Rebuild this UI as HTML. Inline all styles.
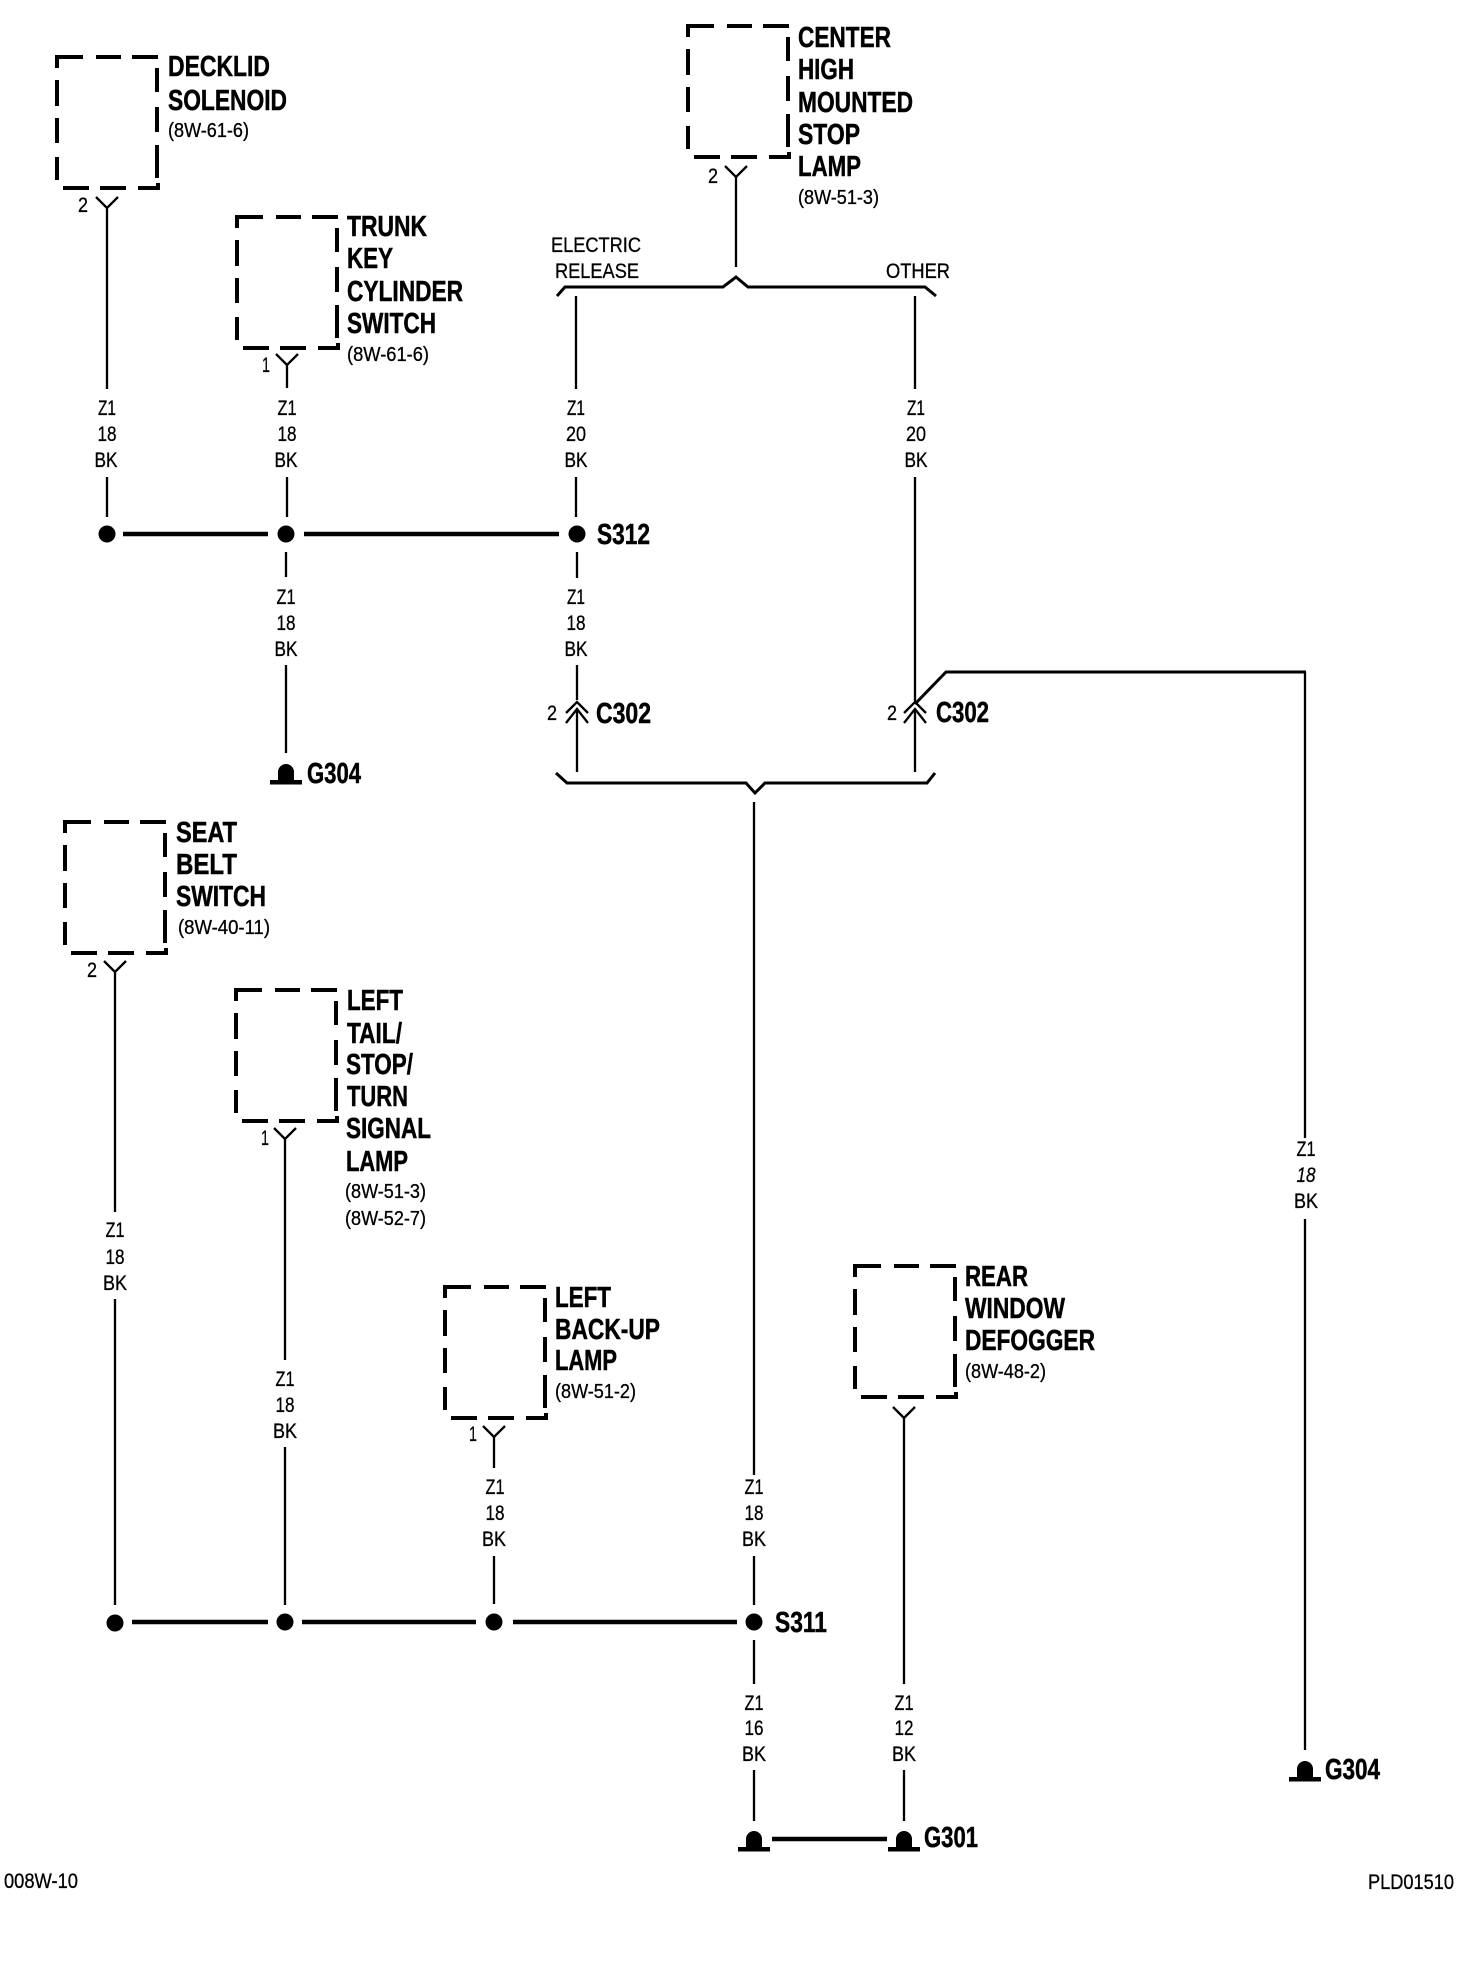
<!DOCTYPE html>
<html><head><meta charset="utf-8"><style>
html,body{margin:0;padding:0;background:#fff}
svg{display:block}
text{fill:#000;stroke:#000;font-family:"Liberation Sans",sans-serif}
.b{font-size:29px;font-weight:bold;stroke-width:.5}
.p{font-size:20px;stroke-width:.3}
.n{font-size:21px;stroke-width:.3}
.c{font-size:21px;text-anchor:middle;stroke-width:.3}
.w{fill:none;stroke:#000;stroke-width:2.3}
.t{fill:none;stroke:#000;stroke-width:3}
.h{fill:none;stroke:#000;stroke-width:4.5}
.d{fill:none;stroke:#000;stroke-width:4}
</style></head><body>
<svg width="1472" height="1982" viewBox="0 0 1472 1982" xmlns="http://www.w3.org/2000/svg">
<defs>
<path id="box" class="d" d="M0,11V0H26M39,0H64M75,0H101M100,11V35M100,50V75M100,88V121M6,131H32M43,131H69M81,131H101V126M0,23V49M0,61V86M0,100V123"/>
<path id="yc" class="w" d="M-11,-11L0,0L11,-11"/>
<g id="gnd"><path d="M-8,8V0A8,8 0 0 1 8,0V8Z"/><rect x="-16" y="8" width="32" height="4.5"/></g>
<g id="chev"><path class="w" d="M-11,11L0,0L11,11M-11,21L0,7L11,21"/></g>
</defs>
<rect width="1472" height="1982" fill="#fff"/>

<!-- boxes -->
<use href="#box" x="57" y="57"/>
<use href="#box" x="237" y="217"/>
<use href="#box" x="688" y="26"/>
<use href="#box" x="65" y="822"/>
<use href="#box" x="236" y="990"/>
<use href="#box" x="445" y="1287"/>
<use href="#box" x="855" y="1266"/>

<!-- Y connectors -->
<use href="#yc" x="107" y="208"/>
<use href="#yc" x="287" y="365"/>
<use href="#yc" x="736" y="177"/>
<use href="#yc" x="115" y="972"/>
<use href="#yc" x="285" y="1139"/>
<use href="#yc" x="494" y="1437"/>
<use href="#yc" x="904" y="1418"/>

<!-- wires -->
<path class="w" d="M107,208V389M107,477V517M287,365V388M287,477V517M286,552V577M286,665V753
M576,296V389M576,477V517M577,552V578M577,665V700M577,709V772
M915,296V389M915,477V704M915,709V772
M736,177V267
M754,802V1475M754,1556V1605M754,1640V1684M754,1770V1821
M904,1418V1684M904,1770V1821
M115,972V1212M115,1299V1605
M285,1139V1360M285,1447V1605
M494,1437V1468M494,1556V1604
M1305,672V1138M1305,1219V1750"/>
<path class="t" d="M557,296L565,287H723L736,277L748,287H925L936,296"/>
<path class="t" d="M556,773L567,783H746L755,793L765,783H927L935,773"/>
<path class="t" d="M915,704L946,672H1306"/>
<path class="h" d="M123,534H268M304,534H559M132,1622H268M302,1622H476M513,1622H737M772,1839H887"/>

<!-- dots -->
<circle cx="107" cy="534" r="8.5"/><circle cx="286" cy="534" r="8.5"/><circle cx="577" cy="534" r="8.5"/>
<circle cx="115" cy="1623" r="8.5"/><circle cx="285" cy="1622" r="8.5"/><circle cx="494" cy="1622" r="8.5"/><circle cx="754" cy="1622" r="8.5"/>

<!-- grounds -->
<use href="#gnd" x="286" y="772"/>
<use href="#gnd" x="1305" y="1769"/>
<use href="#gnd" x="754" y="1839"/>
<use href="#gnd" x="904" y="1839"/>

<!-- chevrons -->
<use href="#chev" x="577" y="702"/>
<use href="#chev" x="915" y="702"/>

<!-- component labels -->
<text class="b" x="168" y="76" textLength="102" lengthAdjust="spacingAndGlyphs">DECKLID</text>
<text class="b" x="168" y="110" textLength="119" lengthAdjust="spacingAndGlyphs">SOLENOID</text>
<text class="p" x="168" y="137" textLength="81" lengthAdjust="spacingAndGlyphs">(8W-61-6)</text>

<text class="b" x="347" y="236" textLength="80" lengthAdjust="spacingAndGlyphs">TRUNK</text>
<text class="b" x="347" y="268" textLength="46" lengthAdjust="spacingAndGlyphs">KEY</text>
<text class="b" x="347" y="301" textLength="116" lengthAdjust="spacingAndGlyphs">CYLINDER</text>
<text class="b" x="347" y="333" textLength="89" lengthAdjust="spacingAndGlyphs">SWITCH</text>
<text class="p" x="347" y="361" textLength="82" lengthAdjust="spacingAndGlyphs">(8W-61-6)</text>

<text class="b" x="798" y="47" textLength="93" lengthAdjust="spacingAndGlyphs">CENTER</text>
<text class="b" x="798" y="79" textLength="56" lengthAdjust="spacingAndGlyphs">HIGH</text>
<text class="b" x="798" y="112" textLength="115" lengthAdjust="spacingAndGlyphs">MOUNTED</text>
<text class="b" x="798" y="144" textLength="62" lengthAdjust="spacingAndGlyphs">STOP</text>
<text class="b" x="798" y="176" textLength="63" lengthAdjust="spacingAndGlyphs">LAMP</text>
<text class="p" x="798" y="204" textLength="81" lengthAdjust="spacingAndGlyphs">(8W-51-3)</text>

<text class="n" x="551" y="252" textLength="90" lengthAdjust="spacingAndGlyphs">ELECTRIC</text>
<text class="n" x="555" y="278" textLength="84" lengthAdjust="spacingAndGlyphs">RELEASE</text>
<text class="n" x="886" y="278" textLength="64" lengthAdjust="spacingAndGlyphs">OTHER</text>

<text class="b" x="176" y="842" textLength="61" lengthAdjust="spacingAndGlyphs">SEAT</text>
<text class="b" x="176" y="874" textLength="61" lengthAdjust="spacingAndGlyphs">BELT</text>
<text class="b" x="176" y="906" textLength="90" lengthAdjust="spacingAndGlyphs">SWITCH</text>
<text class="p" x="178" y="934" textLength="92" lengthAdjust="spacingAndGlyphs">(8W-40-11)</text>

<text class="b" x="347" y="1010" textLength="56" lengthAdjust="spacingAndGlyphs">LEFT</text>
<text class="b" x="347" y="1043" textLength="55" lengthAdjust="spacingAndGlyphs">TAIL/</text>
<text class="b" x="346" y="1074" textLength="67" lengthAdjust="spacingAndGlyphs">STOP/</text>
<text class="b" x="347" y="1106" textLength="61" lengthAdjust="spacingAndGlyphs">TURN</text>
<text class="b" x="346" y="1138" textLength="85" lengthAdjust="spacingAndGlyphs">SIGNAL</text>
<text class="b" x="346" y="1171" textLength="62" lengthAdjust="spacingAndGlyphs">LAMP</text>
<text class="p" x="345" y="1198" textLength="81" lengthAdjust="spacingAndGlyphs">(8W-51-3)</text>
<text class="p" x="345" y="1225" textLength="81" lengthAdjust="spacingAndGlyphs">(8W-52-7)</text>

<text class="b" x="555" y="1307" textLength="56" lengthAdjust="spacingAndGlyphs">LEFT</text>
<text class="b" x="555" y="1339" textLength="105" lengthAdjust="spacingAndGlyphs">BACK-UP</text>
<text class="b" x="555" y="1370" textLength="62" lengthAdjust="spacingAndGlyphs">LAMP</text>
<text class="p" x="555" y="1398" textLength="81" lengthAdjust="spacingAndGlyphs">(8W-51-2)</text>

<text class="b" x="965" y="1286" textLength="63" lengthAdjust="spacingAndGlyphs">REAR</text>
<text class="b" x="965" y="1318" textLength="100" lengthAdjust="spacingAndGlyphs">WINDOW</text>
<text class="b" x="965" y="1350" textLength="130" lengthAdjust="spacingAndGlyphs">DEFOGGER</text>
<text class="p" x="965" y="1378" textLength="81" lengthAdjust="spacingAndGlyphs">(8W-48-2)</text>

<!-- splice / ground / connector labels -->
<text class="b" x="597" y="544" textLength="53" lengthAdjust="spacingAndGlyphs">S312</text>
<text class="b" x="596" y="723" textLength="55" lengthAdjust="spacingAndGlyphs">C302</text>
<text class="b" x="936" y="722" textLength="53" lengthAdjust="spacingAndGlyphs">C302</text>
<text class="b" x="307" y="783" textLength="54" lengthAdjust="spacingAndGlyphs">G304</text>
<text class="b" x="775" y="1632" textLength="52" lengthAdjust="spacingAndGlyphs">S311</text>
<text class="b" x="1325" y="1779" textLength="55" lengthAdjust="spacingAndGlyphs">G304</text>
<text class="b" x="924" y="1847" textLength="54" lengthAdjust="spacingAndGlyphs">G301</text>

<!-- pin numbers -->
<text class="n" x="78" y="212" textLength="10" lengthAdjust="spacingAndGlyphs">2</text>
<text class="n" x="262" y="372" textLength="8" lengthAdjust="spacingAndGlyphs">1</text>
<text class="n" x="708" y="183" textLength="10" lengthAdjust="spacingAndGlyphs">2</text>
<text class="n" x="547" y="720" textLength="10" lengthAdjust="spacingAndGlyphs">2</text>
<text class="n" x="887" y="720" textLength="10" lengthAdjust="spacingAndGlyphs">2</text>
<text class="n" x="87" y="977" textLength="10" lengthAdjust="spacingAndGlyphs">2</text>
<text class="n" x="261" y="1145" textLength="8" lengthAdjust="spacingAndGlyphs">1</text>
<text class="n" x="469" y="1441" textLength="8" lengthAdjust="spacingAndGlyphs">1</text>

<!-- wire codes -->
<text class="c" x="107" y="415" textLength="18" lengthAdjust="spacingAndGlyphs">Z1</text><text class="c" x="107" y="441" textLength="19" lengthAdjust="spacingAndGlyphs">18</text><text class="c" x="106" y="467" textLength="23" lengthAdjust="spacingAndGlyphs">BK</text>
<text class="c" x="287" y="415" textLength="19" lengthAdjust="spacingAndGlyphs">Z1</text><text class="c" x="287" y="441" textLength="19" lengthAdjust="spacingAndGlyphs">18</text><text class="c" x="286" y="467" textLength="23" lengthAdjust="spacingAndGlyphs">BK</text>
<text class="c" x="576" y="415" textLength="18" lengthAdjust="spacingAndGlyphs">Z1</text><text class="c" x="576" y="441" textLength="20" lengthAdjust="spacingAndGlyphs">20</text><text class="c" x="576" y="467" textLength="23" lengthAdjust="spacingAndGlyphs">BK</text>
<text class="c" x="916" y="415" textLength="18" lengthAdjust="spacingAndGlyphs">Z1</text><text class="c" x="916" y="441" textLength="20" lengthAdjust="spacingAndGlyphs">20</text><text class="c" x="916" y="467" textLength="23" lengthAdjust="spacingAndGlyphs">BK</text>
<text class="c" x="286" y="604" textLength="19" lengthAdjust="spacingAndGlyphs">Z1</text><text class="c" x="286" y="630" textLength="19" lengthAdjust="spacingAndGlyphs">18</text><text class="c" x="286" y="656" textLength="23" lengthAdjust="spacingAndGlyphs">BK</text>
<text class="c" x="576" y="604" textLength="18" lengthAdjust="spacingAndGlyphs">Z1</text><text class="c" x="576" y="630" textLength="19" lengthAdjust="spacingAndGlyphs">18</text><text class="c" x="576" y="656" textLength="23" lengthAdjust="spacingAndGlyphs">BK</text>
<text class="c" x="115" y="1237" textLength="19" lengthAdjust="spacingAndGlyphs">Z1</text><text class="c" x="115" y="1264" textLength="19" lengthAdjust="spacingAndGlyphs">18</text><text class="c" x="115" y="1290" textLength="24" lengthAdjust="spacingAndGlyphs">BK</text>
<text class="c" x="285" y="1386" textLength="19" lengthAdjust="spacingAndGlyphs">Z1</text><text class="c" x="285" y="1412" textLength="19" lengthAdjust="spacingAndGlyphs">18</text><text class="c" x="285" y="1438" textLength="24" lengthAdjust="spacingAndGlyphs">BK</text>
<text class="c" x="495" y="1494" textLength="19" lengthAdjust="spacingAndGlyphs">Z1</text><text class="c" x="495" y="1520" textLength="19" lengthAdjust="spacingAndGlyphs">18</text><text class="c" x="494" y="1546" textLength="24" lengthAdjust="spacingAndGlyphs">BK</text>
<text class="c" x="754" y="1494" textLength="19" lengthAdjust="spacingAndGlyphs">Z1</text><text class="c" x="754" y="1520" textLength="19" lengthAdjust="spacingAndGlyphs">18</text><text class="c" x="754" y="1546" textLength="24" lengthAdjust="spacingAndGlyphs">BK</text>
<text class="c" x="754" y="1710" textLength="19" lengthAdjust="spacingAndGlyphs">Z1</text><text class="c" x="754" y="1735" textLength="19" lengthAdjust="spacingAndGlyphs">16</text><text class="c" x="754" y="1761" textLength="24" lengthAdjust="spacingAndGlyphs">BK</text>
<text class="c" x="904" y="1710" textLength="19" lengthAdjust="spacingAndGlyphs">Z1</text><text class="c" x="904" y="1735" textLength="19" lengthAdjust="spacingAndGlyphs">12</text><text class="c" x="904" y="1761" textLength="24" lengthAdjust="spacingAndGlyphs">BK</text>
<text class="c" x="1306" y="1156" textLength="19" lengthAdjust="spacingAndGlyphs">Z1</text><text class="c" x="1306" y="1182" textLength="19" lengthAdjust="spacingAndGlyphs" font-style="italic">18</text><text class="c" x="1306" y="1208" textLength="24" lengthAdjust="spacingAndGlyphs">BK</text>

<!-- footer -->
<text class="n" x="4" y="1888" textLength="74" lengthAdjust="spacingAndGlyphs">008W-10</text>
<text class="n" x="1368" y="1889" textLength="86" lengthAdjust="spacingAndGlyphs">PLD01510</text>
</svg>
</body></html>
